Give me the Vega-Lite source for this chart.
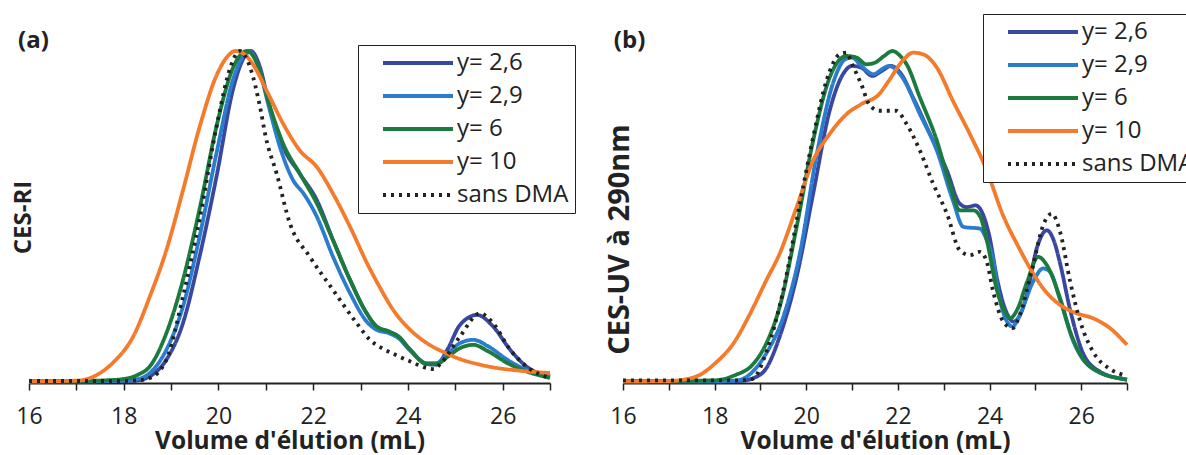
{
"$schema": "https://vega.github.io/schema/vega-lite/v6.json",
"padding": {"left": 11, "top": 13, "right": 0, "bottom": 0},
"config": {"view": {"stroke": null}, "font": "Open Sans"},
"spacing": 29,
"resolve": {"scale": {"x": "independent", "y": "independent", "color": "independent", "strokeDash": "independent"}, "legend": {"color": "independent", "strokeDash": "independent"}},
"datasets": {
"a": [
{"s":"y= 2,6","v":16,"h":0.005},{"s":"y= 2,6","v":17,"h":0.005},{"s":"y= 2,6","v":18,"h":0.006},{"s":"y= 2,6","v":18.3,"h":0.008},{"s":"y= 2,6","v":18.55,"h":0.02},{"s":"y= 2,6","v":18.9,"h":0.07},{"s":"y= 2,6","v":19.25,"h":0.18},{"s":"y= 2,6","v":19.6,"h":0.38},{"s":"y= 2,6","v":19.97,"h":0.63},{"s":"y= 2,6","v":20.3,"h":0.88},{"s":"y= 2,6","v":20.5,"h":0.97},{"s":"y= 2,6","v":20.68,"h":1.0},{"s":"y= 2,6","v":20.88,"h":0.95},{"s":"y= 2,6","v":21.05,"h":0.85},{"s":"y= 2,6","v":21.37,"h":0.71},{"s":"y= 2,6","v":21.72,"h":0.63},{"s":"y= 2,6","v":22.08,"h":0.55},{"s":"y= 2,6","v":22.42,"h":0.43},{"s":"y= 2,6","v":22.78,"h":0.31},{"s":"y= 2,6","v":23.13,"h":0.21},{"s":"y= 2,6","v":23.34,"h":0.17},{"s":"y= 2,6","v":23.6,"h":0.155},{"s":"y= 2,6","v":23.8,"h":0.14},{"s":"y= 2,6","v":24.05,"h":0.1},{"s":"y= 2,6","v":24.4,"h":0.057},{"s":"y= 2,6","v":24.6,"h":0.055},{"s":"y= 2,6","v":24.83,"h":0.1},{"s":"y= 2,6","v":25.1,"h":0.175},{"s":"y= 2,6","v":25.46,"h":0.205},{"s":"y= 2,6","v":25.8,"h":0.17},{"s":"y= 2,6","v":26.16,"h":0.1},{"s":"y= 2,6","v":26.5,"h":0.05},{"s":"y= 2,6","v":27,"h":0.02},
{"s":"y= 2,9","v":16,"h":0.005},{"s":"y= 2,9","v":17,"h":0.005},{"s":"y= 2,9","v":18,"h":0.007},{"s":"y= 2,9","v":18.3,"h":0.012},{"s":"y= 2,9","v":18.55,"h":0.03},{"s":"y= 2,9","v":18.9,"h":0.1},{"s":"y= 2,9","v":19.25,"h":0.23},{"s":"y= 2,9","v":19.6,"h":0.44},{"s":"y= 2,9","v":19.97,"h":0.7},{"s":"y= 2,9","v":20.3,"h":0.91},{"s":"y= 2,9","v":20.5,"h":0.98},{"s":"y= 2,9","v":20.64,"h":1.0},{"s":"y= 2,9","v":20.85,"h":0.95},{"s":"y= 2,9","v":21.05,"h":0.84},{"s":"y= 2,9","v":21.3,"h":0.71},{"s":"y= 2,9","v":21.58,"h":0.61},{"s":"y= 2,9","v":21.8,"h":0.57},{"s":"y= 2,9","v":22.08,"h":0.5},{"s":"y= 2,9","v":22.42,"h":0.38},{"s":"y= 2,9","v":22.78,"h":0.27},{"s":"y= 2,9","v":23.13,"h":0.185},{"s":"y= 2,9","v":23.34,"h":0.16},{"s":"y= 2,9","v":23.6,"h":0.15},{"s":"y= 2,9","v":23.8,"h":0.135},{"s":"y= 2,9","v":24.05,"h":0.097},{"s":"y= 2,9","v":24.4,"h":0.06},{"s":"y= 2,9","v":24.6,"h":0.06},{"s":"y= 2,9","v":24.85,"h":0.09},{"s":"y= 2,9","v":25.1,"h":0.12},{"s":"y= 2,9","v":25.38,"h":0.13},{"s":"y= 2,9","v":25.7,"h":0.11},{"s":"y= 2,9","v":26.1,"h":0.07},{"s":"y= 2,9","v":26.5,"h":0.04},{"s":"y= 2,9","v":27,"h":0.02},
{"s":"y= 6","v":16,"h":0.005},{"s":"y= 6","v":17,"h":0.006},{"s":"y= 6","v":17.6,"h":0.008},{"s":"y= 6","v":18,"h":0.012},{"s":"y= 6","v":18.3,"h":0.025},{"s":"y= 6","v":18.55,"h":0.05},{"s":"y= 6","v":18.9,"h":0.15},{"s":"y= 6","v":19.25,"h":0.31},{"s":"y= 6","v":19.61,"h":0.53},{"s":"y= 6","v":19.97,"h":0.78},{"s":"y= 6","v":20.31,"h":0.95},{"s":"y= 6","v":20.6,"h":1.0},{"s":"y= 6","v":20.85,"h":0.95},{"s":"y= 6","v":21.05,"h":0.85},{"s":"y= 6","v":21.37,"h":0.72},{"s":"y= 6","v":21.72,"h":0.63},{"s":"y= 6","v":22.08,"h":0.54},{"s":"y= 6","v":22.42,"h":0.43},{"s":"y= 6","v":22.78,"h":0.31},{"s":"y= 6","v":23.13,"h":0.21},{"s":"y= 6","v":23.34,"h":0.17},{"s":"y= 6","v":23.6,"h":0.155},{"s":"y= 6","v":23.8,"h":0.14},{"s":"y= 6","v":24.05,"h":0.1},{"s":"y= 6","v":24.4,"h":0.057},{"s":"y= 6","v":24.6,"h":0.057},{"s":"y= 6","v":24.85,"h":0.08},{"s":"y= 6","v":25.1,"h":0.105},{"s":"y= 6","v":25.38,"h":0.115},{"s":"y= 6","v":25.7,"h":0.095},{"s":"y= 6","v":26.1,"h":0.06},{"s":"y= 6","v":26.5,"h":0.035},{"s":"y= 6","v":27,"h":0.015},
{"s":"y= 10","v":16,"h":0.005},{"s":"y= 10","v":17,"h":0.007},{"s":"y= 10","v":17.25,"h":0.013},{"s":"y= 10","v":17.5,"h":0.03},{"s":"y= 10","v":17.8,"h":0.065},{"s":"y= 10","v":18.2,"h":0.14},{"s":"y= 10","v":18.55,"h":0.26},{"s":"y= 10","v":18.9,"h":0.4},{"s":"y= 10","v":19.25,"h":0.58},{"s":"y= 10","v":19.6,"h":0.77},{"s":"y= 10","v":19.97,"h":0.93},{"s":"y= 10","v":20.2,"h":0.985},{"s":"y= 10","v":20.35,"h":1.0},{"s":"y= 10","v":20.55,"h":0.99},{"s":"y= 10","v":20.75,"h":0.955},{"s":"y= 10","v":21.02,"h":0.88},{"s":"y= 10","v":21.37,"h":0.78},{"s":"y= 10","v":21.72,"h":0.7},{"s":"y= 10","v":22.08,"h":0.65},{"s":"y= 10","v":22.42,"h":0.57},{"s":"y= 10","v":22.78,"h":0.47},{"s":"y= 10","v":23.14,"h":0.36},{"s":"y= 10","v":23.4,"h":0.29},{"s":"y= 10","v":23.69,"h":0.22},{"s":"y= 10","v":24.05,"h":0.16},{"s":"y= 10","v":24.4,"h":0.12},{"s":"y= 10","v":24.8,"h":0.09},{"s":"y= 10","v":25.1,"h":0.072},{"s":"y= 10","v":25.5,"h":0.056},{"s":"y= 10","v":25.8,"h":0.047},{"s":"y= 10","v":26.3,"h":0.038},{"s":"y= 10","v":27,"h":0.03},
{"s":"sans DMA","v":16,"h":0.006},{"s":"sans DMA","v":17,"h":0.006},{"s":"sans DMA","v":18,"h":0.006},{"s":"sans DMA","v":18.3,"h":0.008},{"s":"sans DMA","v":18.55,"h":0.015},{"s":"sans DMA","v":18.9,"h":0.07},{"s":"sans DMA","v":19.25,"h":0.26},{"s":"sans DMA","v":19.61,"h":0.5},{"s":"sans DMA","v":19.97,"h":0.78},{"s":"sans DMA","v":20.25,"h":0.95},{"s":"sans DMA","v":20.45,"h":1.0},{"s":"sans DMA","v":20.67,"h":0.95},{"s":"sans DMA","v":20.88,"h":0.83},{"s":"sans DMA","v":21.0,"h":0.74},{"s":"sans DMA","v":21.23,"h":0.63},{"s":"sans DMA","v":21.51,"h":0.48},{"s":"sans DMA","v":21.93,"h":0.38},{"s":"sans DMA","v":22.42,"h":0.28},{"s":"sans DMA","v":22.92,"h":0.18},{"s":"sans DMA","v":23.2,"h":0.13},{"s":"sans DMA","v":23.45,"h":0.105},{"s":"sans DMA","v":23.69,"h":0.088},{"s":"sans DMA","v":24.05,"h":0.065},{"s":"sans DMA","v":24.4,"h":0.045},{"s":"sans DMA","v":24.55,"h":0.042},{"s":"sans DMA","v":24.7,"h":0.06},{"s":"sans DMA","v":25.1,"h":0.14},{"s":"sans DMA","v":25.52,"h":0.21},{"s":"sans DMA","v":25.8,"h":0.18},{"s":"sans DMA","v":26.16,"h":0.1},{"s":"sans DMA","v":26.5,"h":0.05},{"s":"sans DMA","v":27,"h":0.015}
],
"b": [
{"s":"y= 2,6","v":16,"h":0.005},{"s":"y= 2,6","v":18,"h":0.005},{"s":"y= 2,6","v":18.55,"h":0.006},{"s":"y= 2,6","v":18.85,"h":0.015},{"s":"y= 2,6","v":19.13,"h":0.045},{"s":"y= 2,6","v":19.42,"h":0.14},{"s":"y= 2,6","v":19.79,"h":0.32},{"s":"y= 2,6","v":20.15,"h":0.57},{"s":"y= 2,6","v":20.51,"h":0.82},{"s":"y= 2,6","v":20.8,"h":0.93},{"s":"y= 2,6","v":21.0,"h":0.955},{"s":"y= 2,6","v":21.2,"h":0.95},{"s":"y= 2,6","v":21.44,"h":0.925},{"s":"y= 2,6","v":21.65,"h":0.94},{"s":"y= 2,6","v":21.85,"h":0.955},{"s":"y= 2,6","v":22.05,"h":0.935},{"s":"y= 2,6","v":22.33,"h":0.86},{"s":"y= 2,6","v":22.7,"h":0.75},{"s":"y= 2,6","v":23.07,"h":0.64},{"s":"y= 2,6","v":23.35,"h":0.54},{"s":"y= 2,6","v":23.5,"h":0.53},{"s":"y= 2,6","v":23.7,"h":0.535},{"s":"y= 2,6","v":23.85,"h":0.51},{"s":"y= 2,6","v":24.0,"h":0.44},{"s":"y= 2,6","v":24.17,"h":0.31},{"s":"y= 2,6","v":24.38,"h":0.21},{"s":"y= 2,6","v":24.52,"h":0.185},{"s":"y= 2,6","v":24.65,"h":0.2},{"s":"y= 2,6","v":24.82,"h":0.27},{"s":"y= 2,6","v":25.04,"h":0.41},{"s":"y= 2,6","v":25.25,"h":0.46},{"s":"y= 2,6","v":25.4,"h":0.43},{"s":"y= 2,6","v":25.54,"h":0.36},{"s":"y= 2,6","v":25.76,"h":0.22},{"s":"y= 2,6","v":26.04,"h":0.09},{"s":"y= 2,6","v":26.4,"h":0.035},{"s":"y= 2,6","v":26.92,"h":0.012},{"s":"y= 2,6","v":27,"h":0.01},
{"s":"y= 2,9","v":16,"h":0.005},{"s":"y= 2,9","v":18,"h":0.005},{"s":"y= 2,9","v":18.5,"h":0.008},{"s":"y= 2,9","v":18.8,"h":0.03},{"s":"y= 2,9","v":19.13,"h":0.09},{"s":"y= 2,9","v":19.5,"h":0.2},{"s":"y= 2,9","v":19.86,"h":0.39},{"s":"y= 2,9","v":20.23,"h":0.69},{"s":"y= 2,9","v":20.6,"h":0.91},{"s":"y= 2,9","v":20.85,"h":0.975},{"s":"y= 2,9","v":21.0,"h":0.98},{"s":"y= 2,9","v":21.2,"h":0.955},{"s":"y= 2,9","v":21.47,"h":0.93},{"s":"y= 2,9","v":21.65,"h":0.945},{"s":"y= 2,9","v":21.8,"h":0.955},{"s":"y= 2,9","v":21.95,"h":0.945},{"s":"y= 2,9","v":22.1,"h":0.92},{"s":"y= 2,9","v":22.48,"h":0.81},{"s":"y= 2,9","v":22.85,"h":0.7},{"s":"y= 2,9","v":23.2,"h":0.55},{"s":"y= 2,9","v":23.43,"h":0.47},{"s":"y= 2,9","v":23.79,"h":0.465},{"s":"y= 2,9","v":23.94,"h":0.43},{"s":"y= 2,9","v":24.08,"h":0.37},{"s":"y= 2,9","v":24.17,"h":0.29},{"s":"y= 2,9","v":24.38,"h":0.185},{"s":"y= 2,9","v":24.5,"h":0.17},{"s":"y= 2,9","v":24.66,"h":0.205},{"s":"y= 2,9","v":24.95,"h":0.305},{"s":"y= 2,9","v":25.17,"h":0.345},{"s":"y= 2,9","v":25.32,"h":0.335},{"s":"y= 2,9","v":25.54,"h":0.25},{"s":"y= 2,9","v":25.83,"h":0.125},{"s":"y= 2,9","v":26.26,"h":0.042},{"s":"y= 2,9","v":26.92,"h":0.012},{"s":"y= 2,9","v":27,"h":0.01},
{"s":"y= 6","v":16,"h":0.005},{"s":"y= 6","v":18,"h":0.008},{"s":"y= 6","v":18.45,"h":0.024},{"s":"y= 6","v":18.82,"h":0.054},{"s":"y= 6","v":19.13,"h":0.12},{"s":"y= 6","v":19.42,"h":0.23},{"s":"y= 6","v":19.79,"h":0.47},{"s":"y= 6","v":20.15,"h":0.73},{"s":"y= 6","v":20.51,"h":0.92},{"s":"y= 6","v":20.88,"h":0.985},{"s":"y= 6","v":21.1,"h":0.98},{"s":"y= 6","v":21.31,"h":0.96},{"s":"y= 6","v":21.5,"h":0.965},{"s":"y= 6","v":21.7,"h":0.985},{"s":"y= 6","v":21.88,"h":1.0},{"s":"y= 6","v":22.05,"h":0.985},{"s":"y= 6","v":22.19,"h":0.96},{"s":"y= 6","v":22.48,"h":0.86},{"s":"y= 6","v":22.85,"h":0.73},{"s":"y= 6","v":23.13,"h":0.6},{"s":"y= 6","v":23.35,"h":0.52},{"s":"y= 6","v":23.65,"h":0.52},{"s":"y= 6","v":23.8,"h":0.5},{"s":"y= 6","v":23.94,"h":0.43},{"s":"y= 6","v":24.17,"h":0.275},{"s":"y= 6","v":24.38,"h":0.205},{"s":"y= 6","v":24.45,"h":0.195},{"s":"y= 6","v":24.6,"h":0.22},{"s":"y= 6","v":24.82,"h":0.305},{"s":"y= 6","v":25.06,"h":0.38},{"s":"y= 6","v":25.25,"h":0.355},{"s":"y= 6","v":25.54,"h":0.255},{"s":"y= 6","v":25.76,"h":0.155},{"s":"y= 6","v":26.04,"h":0.073},{"s":"y= 6","v":26.4,"h":0.033},{"s":"y= 6","v":26.92,"h":0.012},{"s":"y= 6","v":27,"h":0.01},
{"s":"y= 10","v":16,"h":0.005},{"s":"y= 10","v":17,"h":0.006},{"s":"y= 10","v":17.39,"h":0.012},{"s":"y= 10","v":17.67,"h":0.024},{"s":"y= 10","v":18.04,"h":0.063},{"s":"y= 10","v":18.39,"h":0.115},{"s":"y= 10","v":18.76,"h":0.205},{"s":"y= 10","v":19.13,"h":0.31},{"s":"y= 10","v":19.42,"h":0.39},{"s":"y= 10","v":19.79,"h":0.53},{"s":"y= 10","v":20.15,"h":0.67},{"s":"y= 10","v":20.51,"h":0.75},{"s":"y= 10","v":20.88,"h":0.81},{"s":"y= 10","v":21.2,"h":0.84},{"s":"y= 10","v":21.59,"h":0.87},{"s":"y= 10","v":21.8,"h":0.91},{"s":"y= 10","v":22.1,"h":0.97},{"s":"y= 10","v":22.33,"h":0.995},{"s":"y= 10","v":22.55,"h":0.99},{"s":"y= 10","v":22.85,"h":0.95},{"s":"y= 10","v":23.2,"h":0.85},{"s":"y= 10","v":23.57,"h":0.75},{"s":"y= 10","v":23.94,"h":0.64},{"s":"y= 10","v":24.28,"h":0.51},{"s":"y= 10","v":24.65,"h":0.405},{"s":"y= 10","v":24.93,"h":0.335},{"s":"y= 10","v":25.17,"h":0.285},{"s":"y= 10","v":25.54,"h":0.235},{"s":"y= 10","v":25.9,"h":0.21},{"s":"y= 10","v":26.26,"h":0.195},{"s":"y= 10","v":26.63,"h":0.165},{"s":"y= 10","v":27,"h":0.115},
{"s":"sans DMA","v":16,"h":0.008},{"s":"sans DMA","v":18,"h":0.008},{"s":"sans DMA","v":18.5,"h":0.008},{"s":"sans DMA","v":18.82,"h":0.012},{"s":"sans DMA","v":19.13,"h":0.094},{"s":"sans DMA","v":19.5,"h":0.28},{"s":"sans DMA","v":19.86,"h":0.54},{"s":"sans DMA","v":20.15,"h":0.74},{"s":"sans DMA","v":20.44,"h":0.91},{"s":"sans DMA","v":20.73,"h":0.99},{"s":"sans DMA","v":20.88,"h":0.995},{"s":"sans DMA","v":21.0,"h":0.96},{"s":"sans DMA","v":21.2,"h":0.9},{"s":"sans DMA","v":21.37,"h":0.84},{"s":"sans DMA","v":21.59,"h":0.82},{"s":"sans DMA","v":21.96,"h":0.82},{"s":"sans DMA","v":22.19,"h":0.78},{"s":"sans DMA","v":22.48,"h":0.7},{"s":"sans DMA","v":22.77,"h":0.6},{"s":"sans DMA","v":23.07,"h":0.51},{"s":"sans DMA","v":23.35,"h":0.4},{"s":"sans DMA","v":23.57,"h":0.385},{"s":"sans DMA","v":23.79,"h":0.395},{"s":"sans DMA","v":23.94,"h":0.365},{"s":"sans DMA","v":24.08,"h":0.275},{"s":"sans DMA","v":24.3,"h":0.185},{"s":"sans DMA","v":24.5,"h":0.165},{"s":"sans DMA","v":24.66,"h":0.205},{"s":"sans DMA","v":24.95,"h":0.355},{"s":"sans DMA","v":25.17,"h":0.475},{"s":"sans DMA","v":25.36,"h":0.51},{"s":"sans DMA","v":25.54,"h":0.455},{"s":"sans DMA","v":25.76,"h":0.305},{"s":"sans DMA","v":25.98,"h":0.185},{"s":"sans DMA","v":26.26,"h":0.094},{"s":"sans DMA","v":26.63,"h":0.042},{"s":"sans DMA","v":26.92,"h":0.024},{"s":"sans DMA","v":27,"h":0.02}
]
},
"hconcat": [
{
"width": 521, "height": 332,
"layer": [
{
"data": {"name": "a"},
"mark": {"type": "line", "interpolate": "monotone", "strokeWidth": 3.8},
"encoding": {
"x": {"field": "v", "type": "quantitative", "scale": {"domain": [16, 27], "nice": false, "zero": false},
 "axis": {"values": [16,17,18,19,20,21,22,23,24,25,26,27], "labelExpr": "datum.value % 2 == 0 && datum.value < 27 ? datum.label : ''", "grid": false, "domainColor": "#222", "domainWidth": 2, "tickColor": "#222", "tickWidth": 1.5, "tickSize": 7, "labelFontSize": 23, "labelColor": "#222", "labelPadding": 15, "labelFlush": false, "title": "Volume d'élution (mL)", "titleFontSize": 24.5, "titleFontWeight": "bold", "titleColor": "#222", "titlePadding": 1}},
"y": {"field": "h", "type": "quantitative", "scale": {"domain": [0, 1]},
 "axis": {"labels": false, "ticks": false, "domain": false, "grid": false, "title": "CES-RI", "titleFontSize": 24, "titleFontWeight": "bold", "titleColor": "#222", "titlePadding": -6}},
"color": {"field": "s", "type": "nominal", "sort": null,
 "scale": {"domain": ["y= 2,6", "y= 2,9", "y= 6", "y= 10", "sans DMA"], "range": ["#3a47a0", "#2a7dcc", "#1d7a3d", "#f47b2b", "#222222"]},
 "legend": {"orient": "none", "legendX": 329, "legendY": -6, "title": null, "symbolType": "M-5,0H5", "symbolSize": 196, "symbolStrokeWidth": 4, "symbolOffset": 42, "labelOffset": 27, "labelFontSize": 24, "labelColor": "#222", "fillColor": "white", "strokeColor": "#222", "padding": 6, "rowPadding": 9}},
"strokeDash": {"field": "s", "type": "nominal", "sort": null,
 "scale": {"domain": ["y= 2,6", "y= 2,9", "y= 6", "y= 10", "sans DMA"], "range": [[1, 0], [1, 0], [1, 0], [1, 0], [3, 5]]},
 "legend": {"orient": "none", "legendX": 329, "legendY": -6, "title": null, "symbolType": "M-5,0H5", "symbolSize": 196, "symbolStrokeWidth": 4, "symbolOffset": 42, "labelOffset": 27, "labelFontSize": 24, "labelColor": "#222", "fillColor": "white", "strokeColor": "#222", "padding": 6, "rowPadding": 9}}
}
},
{
"data": {"values": [{"t": "(a)"}]},
"mark": {"type": "text", "align": "left", "baseline": "middle", "fontSize": 24, "fontWeight": "bold", "color": "#222"},
"encoding": {"x": {"datum": 15.77}, "y": {"datum": 1.03}, "text": {"field": "t"}}
}
]
},
{
"width": 504, "height": 332,
"layer": [
{
"data": {"name": "b"},
"mark": {"type": "line", "interpolate": "monotone", "strokeWidth": 3.8},
"encoding": {
"x": {"field": "v", "type": "quantitative", "scale": {"domain": [16, 27], "nice": false, "zero": false},
 "axis": {"values": [16,17,18,19,20,21,22,23,24,25,26,27], "labelExpr": "datum.value % 2 == 0 && datum.value < 27 ? datum.label : ''", "grid": false, "domainColor": "#222", "domainWidth": 2, "tickColor": "#222", "tickWidth": 1.5, "tickSize": 7, "labelFontSize": 23, "labelColor": "#222", "labelPadding": 15, "labelFlush": false, "title": "Volume d'élution (mL)", "titleFontSize": 24.5, "titleFontWeight": "bold", "titleColor": "#222", "titlePadding": 1}},
"y": {"field": "h", "type": "quantitative", "scale": {"domain": [0, 1]},
 "axis": {"labels": false, "ticks": false, "domain": false, "grid": false, "title": "CES-UV à 290nm", "titleFontSize": 29, "titleFontWeight": "bold", "titleColor": "#222", "titlePadding": -11, "titleY": 188}},
"color": {"field": "s", "type": "nominal", "sort": null,
 "scale": {"domain": ["y= 2,6", "y= 2,9", "y= 6", "y= 10", "sans DMA"], "range": ["#3a47a0", "#2a7dcc", "#1d7a3d", "#f47b2b", "#222222"]},
 "legend": {"orient": "none", "legendX": 360, "legendY": -37, "title": null, "symbolType": "M-5,0H5", "symbolSize": 196, "symbolStrokeWidth": 4, "symbolOffset": 42, "labelOffset": 27, "labelFontSize": 24, "labelColor": "#222", "fillColor": "white", "strokeColor": "#222", "padding": 6, "rowPadding": 9}},
"strokeDash": {"field": "s", "type": "nominal", "sort": null,
 "scale": {"domain": ["y= 2,6", "y= 2,9", "y= 6", "y= 10", "sans DMA"], "range": [[1, 0], [1, 0], [1, 0], [1, 0], [3, 5]]},
 "legend": {"orient": "none", "legendX": 360, "legendY": -37, "title": null, "symbolType": "M-5,0H5", "symbolSize": 196, "symbolStrokeWidth": 4, "symbolOffset": 42, "labelOffset": 27, "labelFontSize": 24, "labelColor": "#222", "fillColor": "white", "strokeColor": "#222", "padding": 6, "rowPadding": 9}}
}
},
{
"data": {"values": [{"t": "(b)"}]},
"mark": {"type": "text", "align": "left", "baseline": "middle", "fontSize": 24, "fontWeight": "bold", "color": "#222"},
"encoding": {"x": {"datum": 15.8}, "y": {"datum": 1.03}, "text": {"field": "t"}}
}
]
}
]
}
